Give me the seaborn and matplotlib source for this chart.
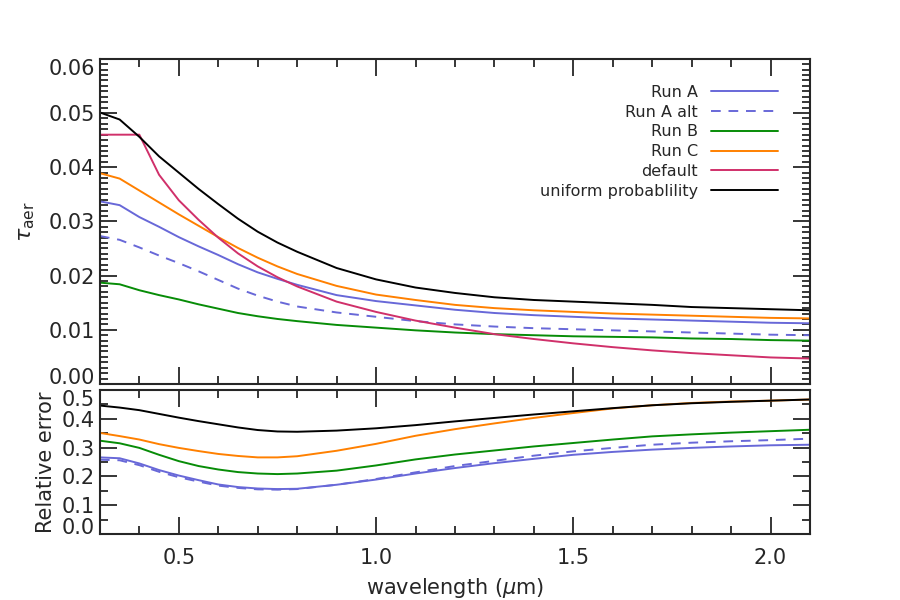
import matplotlib
matplotlib.use("Agg")
import matplotlib.pyplot as plt
import pandas as pd
import seaborn as sns
from matplotlib.ticker import MultipleLocator

# wavelength grid (micron)
wavelength = [0.30, 0.35, 0.40, 0.45, 0.50, 0.55, 0.60, 0.65, 0.70, 0.75, 0.80,
              0.90, 1.00, 1.10, 1.20, 1.30, 1.40, 1.50, 1.60, 1.70, 1.80, 1.90,
              2.00, 2.10]

# aerosol optical depth
tau_run_a = [0.0337, 0.0330, 0.0308, 0.0290, 0.0271, 0.0254, 0.0238, 0.0221, 0.0206,
             0.0194, 0.0183, 0.0164, 0.0153, 0.0145, 0.0137, 0.0131, 0.0127, 0.0124,
             0.0121, 0.0119, 0.0117, 0.0115, 0.0113, 0.0112]
tau_run_a_alt = [0.0273, 0.0266, 0.0252, 0.0237, 0.0223, 0.0208, 0.0192, 0.0176, 0.0163,
                 0.0152, 0.0143, 0.0132, 0.0124, 0.0116, 0.0110, 0.0106, 0.0103, 0.0101,
                 0.0099, 0.0097, 0.0095, 0.0093, 0.0091, 0.0090]
tau_run_b = [0.0187, 0.0184, 0.0173, 0.0164, 0.0156, 0.0147, 0.0139, 0.0131, 0.0125,
             0.0120, 0.0116, 0.0109, 0.0104, 0.0099, 0.0095, 0.0092, 0.0090, 0.0088,
             0.0087, 0.0086, 0.0084, 0.0083, 0.0081, 0.0080]
tau_run_c = [0.0389, 0.0379, 0.0357, 0.0335, 0.0313, 0.0292, 0.0271, 0.0251, 0.0233,
             0.0217, 0.0203, 0.0181, 0.0165, 0.0155, 0.0146, 0.0140, 0.0136, 0.0133,
             0.0130, 0.0128, 0.0126, 0.0124, 0.0122, 0.0121]
tau_default = [0.0460, 0.0460, 0.0460, 0.0386, 0.0339, 0.0303, 0.0270, 0.0241, 0.0217,
               0.0197, 0.0180, 0.0152, 0.0133, 0.0117, 0.0104, 0.0092, 0.0083, 0.0075,
               0.0068, 0.0062, 0.0057, 0.0053, 0.0049, 0.0047]
tau_uniform = [0.0501, 0.0488, 0.0456, 0.0420, 0.0390, 0.0360, 0.0332, 0.0305, 0.0281,
               0.0261, 0.0244, 0.0214, 0.0193, 0.0178, 0.0168, 0.0160, 0.0155, 0.0152,
               0.0149, 0.0146, 0.0142, 0.0140, 0.0138, 0.0136]

# relative error
err_run_a = [0.266, 0.263, 0.245, 0.222, 0.203, 0.187, 0.172, 0.163, 0.158, 0.156, 0.157,
             0.171, 0.189, 0.210, 0.229, 0.246, 0.261, 0.275, 0.285, 0.293, 0.299, 0.304,
             0.308, 0.310]
err_run_a_alt = [0.258, 0.256, 0.239, 0.216, 0.197, 0.182, 0.168, 0.160, 0.155, 0.154,
                 0.156, 0.171, 0.191, 0.214, 0.236, 0.254, 0.272, 0.287, 0.299, 0.310,
                 0.317, 0.322, 0.326, 0.331]
err_run_b = [0.324, 0.315, 0.299, 0.275, 0.253, 0.236, 0.224, 0.215, 0.210, 0.208, 0.210,
             0.220, 0.238, 0.259, 0.276, 0.290, 0.304, 0.316, 0.328, 0.339, 0.346, 0.352,
             0.357, 0.362]
err_run_c = [0.351, 0.340, 0.328, 0.312, 0.299, 0.288, 0.278, 0.271, 0.266, 0.266, 0.270,
             0.289, 0.313, 0.341, 0.364, 0.384, 0.403, 0.420, 0.436, 0.447, 0.455, 0.460,
             0.463, 0.467]
err_uniform = [0.446, 0.439, 0.430, 0.417, 0.404, 0.392, 0.381, 0.370, 0.361, 0.356, 0.355,
               0.359, 0.367, 0.378, 0.391, 0.403, 0.415, 0.426, 0.437, 0.447, 0.454, 0.459,
               0.463, 0.467]

labels = ["Run A", "Run A alt", "Run B", "Run C", "default", "uniform probablility"]
colors = {"Run A": "#6868d8", "Run A alt": "#6868d8", "Run B": "#078c07",
          "Run C": "#ff8000", "default": "#d0306a", "uniform probablility": "black"}
dashes = {lab: "" for lab in labels}
dashes["Run A alt"] = (5, 4)

tau = pd.DataFrame({"wavelength": wavelength * 6,
                    "value": tau_run_a + tau_run_a_alt + tau_run_b + tau_run_c
                    + tau_default + tau_uniform,
                    "label": [lab for lab in labels for _ in wavelength]})
err_labels = ["Run A", "Run A alt", "Run B", "Run C", "uniform probablility"]
err = pd.DataFrame({"wavelength": wavelength * 5,
                    "value": err_run_a + err_run_a_alt + err_run_b + err_run_c + err_uniform,
                    "label": [lab for lab in err_labels for _ in wavelength]})

sns.set_style("ticks")
plt.rcParams["font.family"] = ["DejaVu Sans"]
plt.rcParams["axes.linewidth"] = 1.5

fig = plt.figure(figsize=(9, 6), dpi=100)
ax1 = fig.add_axes([0.111, 0.36, 0.789, 0.542])
ax2 = fig.add_axes([0.111, 0.11, 0.789, 0.24])

sns.lineplot(data=tau, x="wavelength", y="value", hue="label", style="label",
             hue_order=labels, style_order=labels, palette=colors, dashes=dashes,
             linewidth=1.4, ax=ax1)
sns.lineplot(data=err, x="wavelength", y="value", hue="label", style="label",
             hue_order=err_labels, style_order=err_labels, palette=colors,
             dashes=dashes, linewidth=1.4, legend=False, ax=ax2)

for ax in (ax1, ax2):
    ax.set_xlim(0.3, 2.1)
    ax.xaxis.set_major_locator(MultipleLocator(0.5))
    ax.xaxis.set_minor_locator(MultipleLocator(0.1))
    ax.tick_params(which="both", direction="in", top=True, right=True, width=1.3,
                   labelsize=15)
    ax.tick_params(which="major", length=12)
    ax.tick_params(which="minor", length=6)
    ax.set_xlabel("")

ax1.set_ylim(0, 0.06)
ax1.set_yticks([0.0, 0.01, 0.02, 0.03, 0.04, 0.05, 0.06])
ax1.set_yticklabels(["0.00", "0.01", "0.02", "0.03", "0.04", "0.05", "0.06"])
ax1.yaxis.set_minor_locator(MultipleLocator(0.001))
ax1.tick_params(axis="x", labelbottom=False)
ax1.set_ylabel(r"$\tau_{\rm aer}$", fontsize=16, labelpad=8)

ax2.set_ylim(0, 0.5)
ax2.set_yticks([0.0, 0.1, 0.2, 0.3, 0.4, 0.5])
ax2.set_yticklabels(["0.0", "0.1", "0.2", "0.3", "0.4", "0.5"])
ax2.yaxis.set_minor_locator(MultipleLocator(0.05))
ax2.tick_params(axis="x", pad=10)
ax2.set_ylabel("Relative error", fontsize=15, labelpad=4)
ax2.set_xlabel(r"wavelength ($\mu$m)", fontsize=15, labelpad=6)

# keep end labels inside the panels, as in the original
for ax in (ax1, ax2):
    ticklabels = ax.get_yticklabels()
    ticklabels[0].set_va("baseline")
    ticklabels[-1].set_va("top")

leg = ax1.legend(loc="upper right", bbox_to_anchor=(0.955, 0.92), frameon=False,
                 markerfirst=False, fontsize=11.5, handlelength=4.2,
                 handletextpad=0.8, labelspacing=0.3, borderpad=0, borderaxespad=0)

plt.savefig("out.png", dpi=100)
